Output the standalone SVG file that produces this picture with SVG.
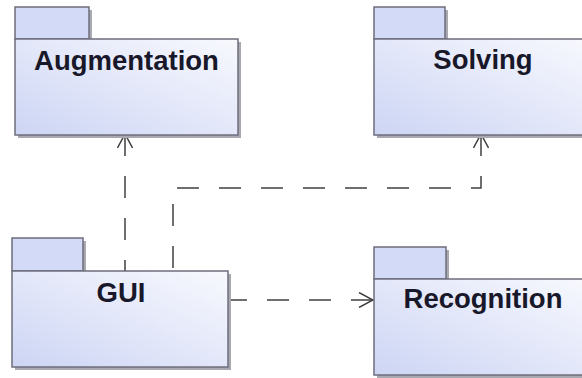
<svg xmlns="http://www.w3.org/2000/svg" width="582" height="378" viewBox="0 0 582 378">
  <defs>
    <linearGradient id="bodyFill" x1="0" y1="1" x2="1" y2="0">
      <stop offset="0" stop-color="#cdd5f4"/>
      <stop offset="1" stop-color="#f8f9fe"/>
    </linearGradient>
    <marker id="open" viewBox="0 0 16 16" refX="15" refY="8" markerWidth="16" markerHeight="16" markerUnits="userSpaceOnUse" orient="auto-start-reverse">
      <path d="M1,0.5 L15,8 L1,15.5" fill="none" stroke="#404040" stroke-width="1.5"/>
    </marker>
  </defs>
  <style>
    .shadow { fill: #a9a9b2; }
    .tab { fill: #d2daf7; stroke: #6e6e7c; stroke-width: 1.5; }
    .body { fill: url(#bodyFill); stroke: #6e6e7c; stroke-width: 1.5; }
    .label { font-family: "Liberation Sans", Arial, sans-serif; font-weight: bold; font-size: 27.5px; fill: #18182a; text-anchor: middle; }
    .dep { fill: none; stroke: #404040; stroke-width: 1.5; stroke-dasharray: 22 20; }
  </style>
  <rect width="582" height="378" fill="#ffffff"/>

  <g id="connectors">
    <!-- GUI to Augmentation -->
    <path class="dep" d="M125,134 L125,271" marker-start="url(#open)"/>
    <!-- GUI to Solving -->
    <path class="dep" d="M481,134 L481,188 L173,188 L173,271" marker-start="url(#open)"/>
    <!-- GUI to Recognition -->
    <path class="dep" d="M373,300 L228,300" marker-start="url(#open)"/>
  </g>

  <g id="augmentation">
    <rect class="shadow" x="18" y="10" width="74" height="32"/>
    <rect class="shadow" x="18" y="42" width="223" height="96"/>
    <rect class="tab" x="15" y="7" width="74" height="32"/>
    <rect class="body" x="15" y="39" width="223" height="96"/>
    <text class="label" x="126.5" y="69.5">Augmentation</text>
  </g>

  <g id="solving">
    <rect class="shadow" x="377" y="10" width="71" height="32"/>
    <rect class="shadow" x="377" y="42" width="218" height="96"/>
    <rect class="tab" x="374" y="7" width="71" height="32"/>
    <rect class="body" x="374" y="39" width="218" height="96"/>
    <text class="label" x="483" y="69">Solving</text>
  </g>

  <g id="gui">
    <rect class="shadow" x="15" y="241" width="71" height="33"/>
    <rect class="shadow" x="15" y="274" width="216" height="96"/>
    <rect class="tab" x="12" y="238" width="71" height="33"/>
    <rect class="body" x="12" y="271" width="216" height="96"/>
    <text class="label" x="121" y="301.5">GUI</text>
  </g>

  <g id="recognition">
    <rect class="shadow" x="377" y="250" width="72" height="32"/>
    <rect class="shadow" x="377" y="282" width="218" height="96"/>
    <rect class="tab" x="374" y="247" width="72" height="32"/>
    <rect class="body" x="374" y="279" width="218" height="96"/>
    <text class="label" x="483" y="308">Recognition</text>
  </g>
</svg>
